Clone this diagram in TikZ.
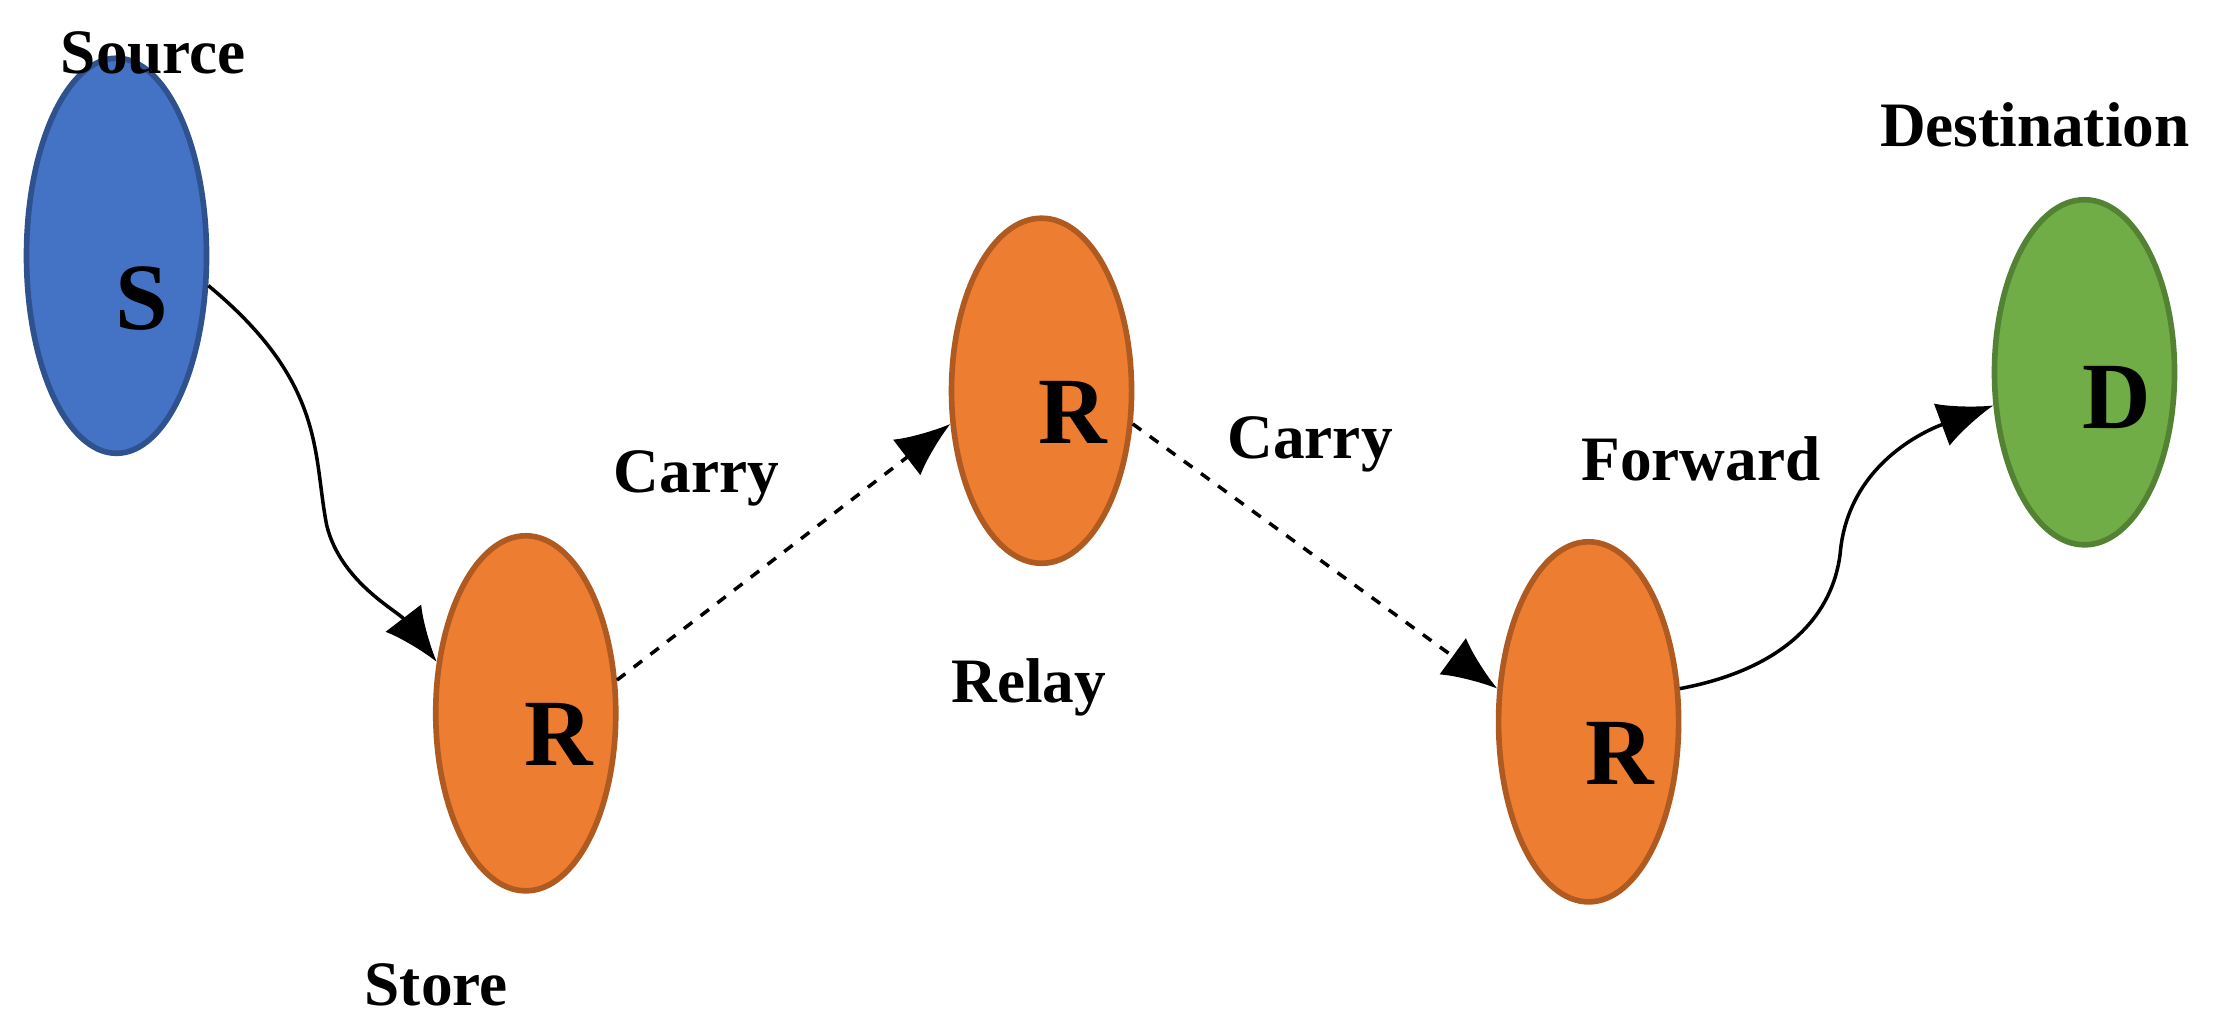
\documentclass[tikz,border=0pt]{standalone}
\usepackage{fontspec}
\setmainfont{Liberation Serif}
\usetikzlibrary{shapes.geometric,arrows.meta}

\definecolor{srcblue}{RGB}{68,114,196}
\definecolor{srcedge}{RGB}{47,82,143}
\definecolor{relorange}{RGB}{237,125,49}
\definecolor{reledge}{RGB}{174,90,33}
\definecolor{dstgreen}{RGB}{112,173,71}
\definecolor{dstedge}{RGB}{84,130,53}

\tikzset{
  peer/.style={ellipse, line width=1.6pt, minimum width=1.8cm, inner sep=0pt},
  peerletter/.style={font=\fontsize{27}{30}\selectfont\bfseries},
  tag/.style={font=\fontsize{18}{21}\selectfont\bfseries},
  hop/.style={line width=1pt, -{Latex[length=0.55cm,width=0.45cm]}},
}

\begin{document}
\begin{tikzpicture}[x=0.01421cm, y=-0.01421cm]
\useasboundingbox (0,0) rectangle (1568,728);
                            \node[peer, fill=srcblue, draw=srcedge, minimum height=3.95cm] (s) at (82,180) {};
                            \node[peer, fill=relorange, draw=reledge, minimum height=3.55cm] (r1) at (370,502) {};
                            \node[peer, fill=relorange, draw=reledge, minimum height=3.45cm] (r2) at (733,275) {};
                            \node[peer, fill=relorange, draw=reledge, minimum height=3.6cm] (r3) at (1118,508) {};
                            \node[peer, fill=dstgreen, draw=dstedge, minimum height=3.45cm] (d) at (1467,262) {};

                            \node[peerletter] (sl) at (100,210) {S};
                            \node[peerletter] (r1l) at (393,517) {R};
                            \node[peerletter] (r2l) at (755,290) {R};
                            \node[peerletter] (r3l) at (1140,530) {R};
                            \node[peerletter] (dl) at (1490,280) {D};

                            \node[tag] (source) at (108,37) {Source};
                            \node[tag] (store) at (307,693) {Store};
                            \node[tag] (carry1) at (490,337) {Carry};
                            \node[tag] (relay) at (724,484) {Relay};
                            \node[tag] (carry2) at (922,313) {Carry};
                            \node[tag] (forward) at (1197,323) {Forward};
                            \node[tag] (destination) at (1432,88) {Destination};

                            \draw[hop] (s.-18) .. controls (230,270) and (220,320) .. (230,370)
                                       .. controls (240,410) and (280,430) .. (r1.150);
                            \draw[hop, dashed] (r1.20) -- (r2.200);
                            \draw[hop, dashed] (r2.-20) -- (r3.160);
                            \draw[hop] (r3.20) .. controls (1260,470) and (1290,430) .. (1295,390)
                                       .. controls (1300,330) and (1350,305) .. (d.200);
                        \end{tikzpicture}
\end{document}
